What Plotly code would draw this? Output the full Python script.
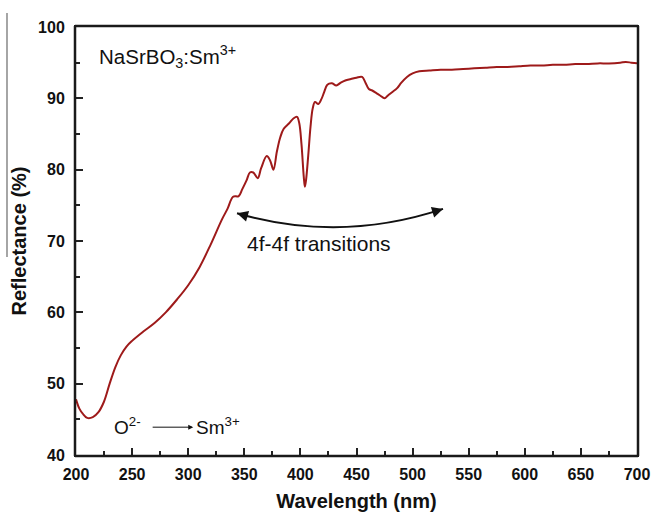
import plotly.graph_objects as go

wavelength = [200, 203, 206, 210, 215, 220, 225, 230, 235, 240, 245, 250, 260, 270, 280, 290,
              300, 310, 320, 330, 335, 340, 345, 348, 352, 355, 358, 362, 365, 370, 373, 376,
              379, 382, 385, 390, 394, 397, 399, 401, 403, 404, 405, 407, 409, 411, 413, 416,
              419, 421, 424, 428, 432, 436, 440, 445, 450, 455, 458, 461, 464, 468, 471, 475,
              478, 482, 486, 490, 495, 500, 506, 515, 525, 535, 545, 555, 565, 575, 585, 595,
              605, 615, 625, 635, 645, 655, 665, 675, 685, 690, 695, 700]
reflectance = [47.8, 46.5, 45.8, 45.2, 45.3, 46.0, 47.5, 50.0, 52.3, 54.0, 55.2, 56.0, 57.3, 58.5, 60.0, 61.8,
               63.8, 66.3, 69.5, 73.0, 74.5, 76.2, 76.3, 77.2, 78.5, 79.6, 79.6, 78.8, 80.2, 81.9, 81.3, 80.0,
               82.5, 84.5, 85.7, 86.5, 87.2, 87.4, 86.5, 83.5, 79.0, 77.6, 78.5, 82.0, 86.0, 88.6, 89.5, 89.2,
               90.0, 90.8, 91.9, 92.1, 91.8, 92.2, 92.5, 92.7, 92.9, 93.0, 92.2, 91.3, 91.1, 90.7, 90.4, 90.0,
               90.4, 90.9, 91.4, 92.2, 93.0, 93.5, 93.8, 93.9, 94.0, 94.0, 94.1, 94.2, 94.3, 94.4, 94.4, 94.5,
               94.6, 94.6, 94.7, 94.7, 94.8, 94.8, 94.9, 94.9, 95.0, 95.1, 95.0, 94.9]

x_ticks = [200, 250, 300, 350, 400, 450, 500, 550, 600, 650, 700]
x_labels = ["200", "250", "300", "350", "400", "450", "500", "550", "600", "650", "700"]
y_ticks = [40, 50, 60, 70, 80, 90, 100]
y_labels = ["40", "50", "60", "70", "80", "90", "100"]

x_range = [x_ticks[0], x_ticks[-1]]
y_range = [y_ticks[0], y_ticks[-1]]

FONT = "Liberation Sans, Arial, sans-serif"
PLOT_W, PLOT_H = 654 - 76 - 17, 515 - 27 - 60
dx, dy = 1.0 / PLOT_W, 1.0 / PLOT_H

fig = go.Figure()
fig.add_trace(go.Scatter(x=wavelength, y=reflectance, mode="lines",
                         line=dict(color="#9e1a1a", width=2), line_shape="spline",
                         showlegend=False, hoverinfo="skip"))

axis_common = dict(showline=True, mirror=True, linecolor="#1a1a1a", linewidth=2, automargin=False,
                   ticks="inside", ticklen=7, tickwidth=2, tickcolor="#222",
                   showgrid=False, zeroline=False,
                   tickfont=dict(family=FONT, size=16, color="#111"))

fig.update_xaxes(range=x_range, tickvals=x_ticks, ticktext=["<b>%s</b>" % s for s in x_labels],
                 minor=dict(ticks="inside", ticklen=4, tickwidth=2, tickcolor="#222", dtick=25, tick0=200),
                 title=dict(text="<b>Wavelength (nm)</b>", font=dict(family=FONT, size=20, color="#111"),
                            standoff=12),
                 ticklabelstandoff=4, **axis_common)
fig.update_yaxes(range=y_range, tickvals=y_ticks, ticktext=["<b>%s</b>" % s for s in y_labels],
                 minor=dict(ticks="inside", ticklen=4, tickwidth=2, tickcolor="#222", dtick=5, tick0=40),
                 title=dict(text="<b>Reflectance (%)</b>", font=dict(family=FONT, size=20, color="#111"),
                            standoff=6),
                 ticklabelstandoff=6, **axis_common)

# plot frame: paper lines nudged half a pixel outward
frame = dict(color="#1a1a1a", width=2.5)
for (x0, x1, y0, y1) in [(-dx, 1 + dx, -dy, -dy), (-dx, 1 + dx, 1 + dy, 1 + dy),
                         (-dx, -dx, -dy, 1 + dy), (1 + dx, 1 + dx, -dy, 1 + dy)]:
    fig.add_shape(type="line", xref="paper", yref="paper", x0=x0, x1=x1, y0=y0, y1=y1,
                  line=frame, layer="above")

# curved double-headed arrow
fig.add_shape(type="path", xref="x", yref="y",
              path="M 343.5,73.9 Q 435.3,69.7 527.1,74.5",
              line=dict(color="#111", width=2))
fig.add_annotation(x=343.5, y=73.9, ax=12, ay=3.5, text="",
                   showarrow=True, arrowhead=2, arrowsize=1.1, arrowwidth=2, arrowcolor="#111")
fig.add_annotation(x=527.1, y=74.5, ax=-12, ay=3.8, text="",
                   showarrow=True, arrowhead=2, arrowsize=1.1, arrowwidth=2, arrowcolor="#111")

# O2- -> Sm3+ arrow
fig.add_annotation(x=304.5, y=43.9, ax=267, ay=43.9, axref="x", ayref="y", text="",
                   showarrow=True, arrowhead=2, arrowsize=1, arrowwidth=1, arrowcolor="#111")

fig.add_annotation(x=219.0, y=95.8, xanchor="left", text="NaSrBO<sub>3</sub>:Sm<sup>3+</sup>",
                   showarrow=False, font=dict(family=FONT, size=20.5, color="#111"))
fig.add_annotation(x=416.6, y=69.7, text="4f-4f transitions", showarrow=False,
                   font=dict(family=FONT, size=21, color="#111"))
fig.add_annotation(x=246.0, y=44.1, text="O<sup>2-</sup>", showarrow=False,
                   font=dict(family=FONT, size=19, color="#111"))
fig.add_annotation(x=305.5, y=44.1, xanchor="left", text="Sm<sup>3+</sup>", showarrow=False,
                   font=dict(family=FONT, size=19, color="#111"))

# gray artifact line on the left edge
fig.add_shape(type="line", xref="paper", yref="paper", x0=-0.123, x1=-0.123, y0=1.033, y1=0.4626,
              line=dict(color="#888", width=1.5))

fig.update_layout(width=654, height=515, margin=dict(l=76, r=17, t=27, b=60),
                  paper_bgcolor="white", plot_bgcolor="white")

fig.write_html("out.html", config={"displayModeBar": False},
               post_script="document.body.style.margin='0px';")
